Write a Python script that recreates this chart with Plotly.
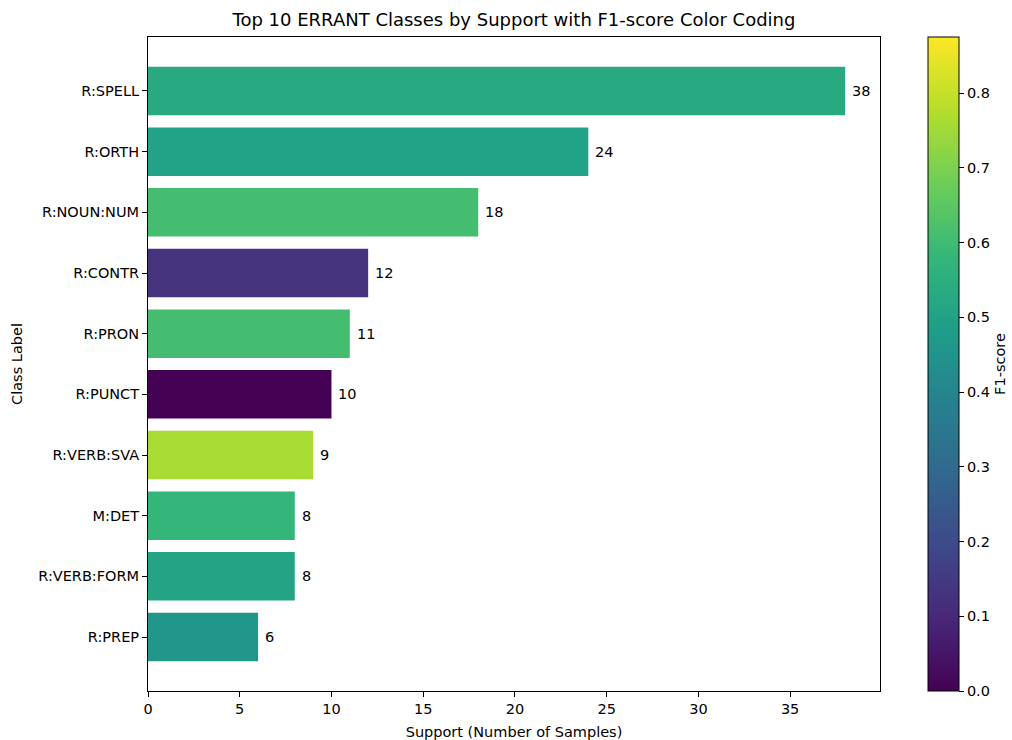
import plotly.graph_objects as go

classes = ["R:SPELL", "R:ORTH", "R:NOUN:NUM", "R:CONTR", "R:PRON",
           "R:PUNCT", "R:VERB:SVA", "M:DET", "R:VERB:FORM", "R:PREP"]
support = [38, 24, 18, 12, 11, 10, 9, 8, 8, 6]
f1_score = [0.53, 0.50, 0.61, 0.13, 0.61, 0.00, 0.76, 0.58, 0.51, 0.46]
cbar_ticks = [0.0, 0.1, 0.2, 0.3, 0.4, 0.5, 0.6, 0.7, 0.8]
x_ticks = [0, 5, 10, 15, 20, 25, 30, 35]

FONT = "DejaVu Sans"
FS = 14.5

fig = go.Figure()
fig.add_trace(go.Bar(
    x=support, y=classes, orientation="h", width=0.8,
    marker=dict(
        color=f1_score, colorscale="Viridis", cmin=0, cmax=0.875,
        line=dict(width=0),
        colorbar=dict(
            x=(928 - 148) / 732, xanchor="left", xpad=0, ypad=0,
            y=0.5, yanchor="middle",
            len=1.0, lenmode="fraction", thickness=31, thicknessmode="pixels",
            outlinewidth=1, outlinecolor="black",
            ticks="outside", ticklen=5, tickcolor="black",
            tickvals=cbar_ticks, tickformat=".1f",
            tickfont=dict(family=FONT, size=FS, color="black"),
            title=dict(text="F1-score", side="right",
                       font=dict(family=FONT, size=FS, color="black")),
        ),
    ),
    hoverinfo="x+y",
))

for c, v in zip(classes, support):
    fig.add_annotation(x=v, y=c, text=str(v), xanchor="left", xshift=5,
                       showarrow=False,
                       font=dict(family=FONT, size=FS, color="black"))

fig.update_layout(
    width=1012, height=740,
    margin=dict(l=148, r=132, t=37, b=49, autoexpand=False),
    paper_bgcolor="white", plot_bgcolor="white",
    font=dict(family=FONT, size=FS, color="black"),
    title=dict(text="Top 10 ERRANT Classes by Support with F1-score Color Coding",
               x=(148 + 880) / 2 / 1012, xanchor="center", y=1 - 20 / 740, yanchor="middle",
               font=dict(family=FONT, size=18, color="black")),
    showlegend=False,
    bargap=0.2,
)
fig.update_xaxes(
    range=[0, 39.9], tickvals=x_ticks, showgrid=False, zeroline=False,
    showline=True, linecolor="black", linewidth=1, mirror=True,
    ticks="outside", ticklen=5, tickcolor="black",
    title=dict(text="Support (Number of Samples)", standoff=10,
               font=dict(family=FONT, size=FS, color="black")),
)
fig.update_yaxes(
    categoryorder="array", categoryarray=classes,
    range=[9.89, -0.89], showgrid=False, zeroline=False,
    showline=True, linecolor="black", linewidth=1, mirror=True,
    ticks="outside", ticklen=5, tickcolor="black",
    title=dict(text="Class Label", standoff=12,
               font=dict(family=FONT, size=FS, color="black")),
)

fig.write_html("out.html")
